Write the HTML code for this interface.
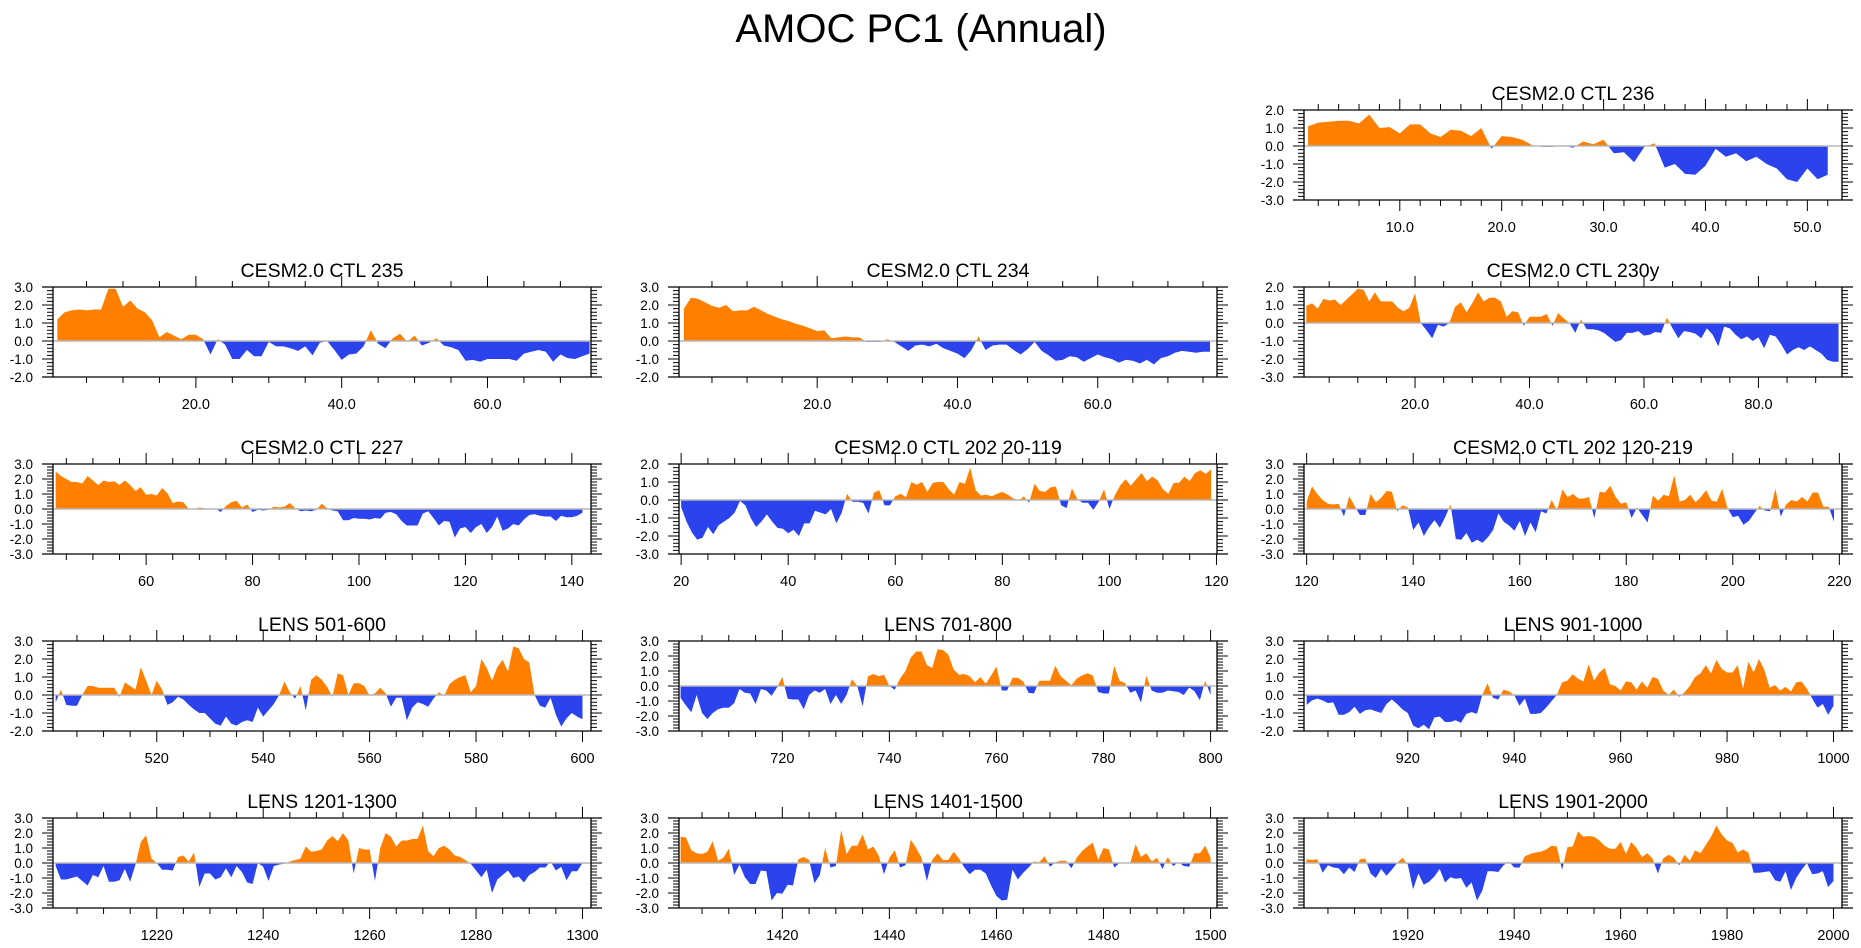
<!DOCTYPE html>
<html><head><meta charset="utf-8"><style>
html,body{margin:0;padding:0;background:#fff;}
svg{display:block;font-family:"Liberation Sans",sans-serif;}
</style></head><body>
<svg id="chart" width="1861" height="948" viewBox="0 0 1861 948" xmlns="http://www.w3.org/2000/svg">
<text x="921" y="42" font-size="40" text-anchor="middle" fill="#000">AMOC PC1 (Annual)</text>
</svg>
<script>
const titles=["CESM2.0 CTL 236","CESM2.0 CTL 235","CESM2.0 CTL 234","CESM2.0 CTL 230y","CESM2.0 CTL 227","CESM2.0 CTL 202 20-119","CESM2.0 CTL 202 120-219","LENS 501-600","LENS 701-800","LENS 901-1000","LENS 1201-1300","LENS 1401-1500","LENS 1901-2000"];
const startYears=[1,1,1,1,43,20,120,501,701,901,1201,1401,1901];
const pc_236=[1.1,1.3,1.35,1.4,1.4,1.25,1.75,1.0,1.05,0.7,1.2,1.2,0.7,0.5,0.9,0.85,0.55,1.0,-0.15,0.55,0.5,0.35,0.05,-0.05,-0.05,0.05,-0.1,0.25,0.1,0.35,-0.4,-0.35,-0.9,-0.05,0.15,-1.2,-1.0,-1.55,-1.6,-1.1,-0.15,-0.6,-0.4,-0.85,-0.6,-1.0,-1.25,-1.85,-2.0,-1.25,-1.85,-1.6];
const pc_235=[1.2,1.6,1.7,1.75,1.7,1.75,1.75,2.9,2.9,1.9,2.25,1.8,1.6,1.15,0.2,0.5,0.3,0.1,0.35,0.35,0.1,-0.75,0.1,-0.2,-1.0,-1.0,-0.5,-0.85,-0.85,-0.05,-0.3,-0.3,-0.4,-0.55,-0.3,-0.8,-0.1,0.0,-0.5,-1.05,-0.75,-0.7,-0.3,0.6,-0.15,-0.4,0.15,0.4,-0.05,0.3,-0.25,-0.1,0.15,-0.25,-0.35,-0.5,-1.1,-1.05,-1.15,-1.0,-1.0,-1.0,-1.0,-1.1,-0.7,-0.6,-0.5,-0.6,-1.15,-0.75,-0.95,-1.0,-0.85,-0.7];
const pc_234=[1.8,2.4,2.35,2.15,1.95,1.85,2.0,1.65,1.7,1.7,1.9,1.7,1.5,1.35,1.2,1.1,0.95,0.85,0.7,0.55,0.6,0.15,0.2,0.25,0.2,0.2,-0.05,-0.05,-0.05,0.1,-0.05,-0.3,-0.55,-0.25,-0.2,-0.3,-0.15,-0.4,-0.55,-0.7,-0.95,-0.5,0.25,-0.5,-0.25,-0.2,-0.2,-0.5,-0.75,-0.45,-0.05,-0.55,-0.8,-1.1,-1.05,-0.85,-0.9,-1.15,-0.95,-0.75,-0.9,-1.0,-1.2,-1.05,-1.1,-1.25,-1.05,-1.3,-0.95,-0.85,-0.65,-0.55,-0.6,-0.65,-0.6,-0.6];
const pc_230y=[0.95,1.1,0.8,1.35,1.25,1.3,1.0,1.3,1.6,1.9,1.85,1.2,1.7,1.2,1.2,1.2,0.85,0.65,0.85,1.65,0.0,-0.4,-0.85,-0.1,-0.2,0.0,0.9,1.15,0.6,1.1,1.7,1.2,1.4,1.4,1.2,0.35,0.65,0.6,-0.15,0.35,0.35,0.35,0.5,-0.15,0.55,0.25,0.0,-0.55,0.2,-0.35,-0.35,-0.4,-0.55,-0.8,-1.05,-0.95,-0.55,-0.55,-0.45,-0.7,-0.65,-0.5,-0.55,0.3,-0.3,-0.85,-0.45,-0.5,-0.6,-0.85,-0.3,-0.65,-1.3,-0.2,-0.3,-0.65,-0.9,-0.75,-1.0,-0.8,-1.4,-0.65,-0.75,-1.2,-1.75,-1.5,-1.35,-1.5,-1.3,-1.5,-1.7,-2.05,-2.15,-2.15];
const pc_227=[2.5,2.2,2.0,1.8,1.8,1.7,2.2,1.9,1.6,1.9,1.8,1.85,1.6,1.9,1.6,1.2,1.45,0.95,1.0,0.9,1.4,1.05,0.4,0.5,0.45,0.0,0.0,0.1,0.05,-0.05,0.05,-0.2,0.2,0.45,0.55,0.1,0.3,-0.2,-0.05,-0.1,-0.05,0.15,0.1,0.15,0.4,0.05,-0.15,-0.1,-0.15,-0.05,0.35,0.05,-0.1,-0.15,-0.75,-0.75,-0.6,-0.65,-0.65,-0.7,-0.6,-0.65,-0.25,-0.2,-0.35,-0.8,-1.1,-1.1,-1.1,-0.3,-0.15,-0.6,-1.1,-0.8,-0.85,-1.9,-1.3,-1.2,-1.6,-1.2,-1.0,-1.6,-1.2,-0.5,-1.45,-1.3,-1.0,-1.1,-0.7,-0.4,-0.35,-0.45,-0.5,-0.5,-0.8,-0.45,-0.55,-0.55,-0.45,-0.25];
const pc_202a=[-0.4,-1.2,-1.8,-2.2,-2.1,-1.5,-1.9,-1.4,-1.2,-1.0,-0.7,-0.05,-0.3,-1.0,-1.5,-1.2,-0.8,-1.2,-1.55,-1.6,-1.85,-1.65,-2.0,-1.3,-1.3,-0.6,-0.7,-0.8,-0.5,-1.3,-0.7,0.35,-0.1,-0.1,-0.15,-0.75,0.4,0.55,-0.3,-0.3,0.2,0.35,0.15,1.0,0.85,1.0,0.45,0.95,1.0,1.0,0.6,0.3,1.0,0.9,1.8,0.55,0.25,0.3,0.2,0.35,0.45,0.3,0.1,-0.05,0.2,-0.15,0.9,0.5,0.45,0.7,0.75,-0.3,-0.45,0.65,0.05,-0.15,-0.15,-0.55,-0.1,0.6,-0.5,0.25,0.8,1.15,0.8,1.15,1.5,1.05,1.3,1.1,0.6,0.35,0.95,0.95,1.3,1.05,1.5,1.65,1.45,1.7];
const pc_202b=[0.5,1.5,1.0,0.6,0.35,0.3,0.35,-0.5,0.85,0.2,-0.4,-0.4,1.0,0.45,0.75,1.2,1.15,-0.15,0.25,0.1,-1.4,-0.9,-1.8,-1.2,-0.75,-1.25,-0.55,0.3,-2.0,-2.05,-1.6,-2.25,-2.05,-2.25,-1.9,-1.4,-0.3,-0.85,-1.1,-1.45,-0.8,-1.8,-0.9,-1.55,-0.15,-0.3,0.6,-0.1,1.3,0.8,1.0,0.7,0.7,0.8,-0.6,1.15,1.1,1.55,0.8,0.35,0.45,-0.6,0.1,-0.4,-0.9,0.9,0.55,0.95,0.85,2.25,0.5,0.6,0.95,0.45,0.8,1.25,0.55,0.5,1.35,0.05,-0.55,-0.45,-1.05,-0.8,-0.3,0.2,-0.1,-0.15,1.35,-0.5,0.3,0.6,0.5,0.8,0.5,1.1,1.1,0.15,0.15,-0.85];
const pc_501=[-0.4,0.3,-0.55,-0.6,-0.6,0.0,0.5,0.5,0.4,0.4,0.4,0.4,-0.1,0.7,0.5,0.3,1.55,0.8,0.0,0.8,0.3,-0.55,-0.4,-0.1,-0.25,-0.55,-0.8,-1.0,-1.0,-1.3,-1.6,-1.7,-1.2,-1.6,-1.7,-1.5,-1.4,-1.5,-0.7,-1.2,-0.85,-0.5,0.0,0.75,0.15,-0.2,0.5,-0.85,0.85,1.1,0.85,0.45,-0.1,1.2,1.1,0.0,0.65,0.65,0.5,-0.05,0.1,0.4,0.1,-0.65,-0.15,-0.15,-1.4,-0.7,-0.4,-0.5,-0.65,-0.2,0.15,-0.05,0.6,0.85,1.0,1.1,0.15,0.5,2.0,1.5,0.8,1.55,1.95,1.3,2.7,2.6,2.0,1.8,0.0,-0.6,-0.7,-0.15,-1.1,-1.75,-1.3,-1.0,-1.2,-1.35];
const pc_701=[-0.8,-1.3,-1.75,-0.6,-1.8,-2.2,-1.8,-1.55,-1.45,-1.45,-1.15,-0.2,-0.45,-0.5,-1.2,-0.2,-0.3,-0.65,-0.1,0.6,-0.85,-0.9,-0.9,-1.55,-0.6,-0.3,-0.45,-0.2,-1.2,-0.6,-1.2,-0.6,0.45,0.0,-1.35,0.65,0.8,0.65,0.75,0.0,-0.25,0.5,1.0,1.9,2.3,2.3,1.4,1.2,2.45,2.4,2.1,1.1,0.75,0.8,0.65,0.25,0.6,0.15,0.7,1.3,-0.3,-0.3,0.55,0.55,0.3,-0.45,-0.5,0.35,0.35,0.35,1.35,0.65,0.35,0.05,0.5,0.7,0.85,0.7,-0.4,-0.5,-0.5,1.35,0.35,0.2,-0.45,-0.3,-1.1,0.7,-0.3,-0.45,-0.45,-0.3,-0.35,-0.4,-0.6,-0.1,-0.35,-0.95,0.35,-0.6];
const pc_901=[-0.55,-0.3,-0.2,-0.3,-0.45,-0.4,-1.1,-1.1,-0.95,-0.65,-1.05,-0.85,-0.8,-0.9,-1.0,-0.5,-0.25,-0.5,-0.8,-1.0,-1.7,-1.85,-1.65,-1.9,-1.25,-1.2,-1.5,-1.5,-1.4,-1.55,-1.05,-0.95,-1.05,0.0,0.65,-0.15,-0.25,0.3,0.2,0.0,-0.6,-0.2,-1.05,-1.05,-1.0,-0.7,-0.35,0.0,0.7,0.8,1.15,0.9,0.75,1.7,0.8,1.25,1.5,0.6,0.5,0.25,0.75,0.7,0.3,0.75,0.4,1.0,0.9,0.25,0.0,0.3,-0.1,0.15,0.5,1.0,1.2,1.65,1.2,1.95,1.45,1.25,1.25,1.65,0.35,1.85,1.25,2.0,1.4,0.4,0.55,0.25,0.45,0.2,0.7,0.75,0.35,-0.2,-0.7,-0.5,-1.1,-0.6];
const pc_1201=[-0.2,-1.1,-1.1,-1.0,-0.9,-1.2,-1.5,-0.8,-0.95,-0.2,-1.25,-1.25,-1.15,-0.4,-1.25,-0.1,1.4,1.85,0.3,0.0,-0.45,-0.45,-0.5,0.4,0.5,0.1,0.7,-1.6,-0.7,-0.7,-1.1,-0.95,-0.35,-0.95,-0.2,-0.6,-1.3,-1.4,0.0,-0.25,-1.2,-0.2,-0.1,-0.05,0.1,0.2,0.3,1.1,0.75,0.8,0.9,1.5,1.8,1.45,2.0,1.5,-0.7,1.0,0.9,0.9,-1.2,1.0,2.0,1.75,1.1,1.5,1.5,1.6,1.6,2.5,0.8,0.45,1.0,1.15,0.9,0.5,0.4,0.2,-0.05,-0.5,-0.95,-0.45,-2.0,-1.1,-0.8,-0.5,-1.0,-0.9,-1.3,-0.8,-0.6,-0.3,-0.3,0.1,-0.5,-0.25,-1.15,-0.55,-0.55,0.0];
const pc_1401=[1.75,1.7,0.85,0.65,0.6,0.75,1.45,0.15,0.35,0.95,-0.8,-0.1,-0.95,-1.4,-1.4,-0.5,-0.55,-2.5,-2.0,-2.05,-1.45,-1.5,0.25,0.4,0.2,-1.35,-0.8,1.0,-0.3,-0.2,2.2,0.6,1.15,1.15,1.9,0.9,1.1,0.5,-0.75,0.35,0.85,-0.3,-0.15,1.55,1.0,0.35,-1.2,0.2,0.65,0.2,0.2,0.75,0.3,-0.3,-0.75,-0.45,-0.45,-0.7,-1.5,-2.2,-2.5,-2.45,-0.45,-1.1,-0.65,-0.3,0.1,0.05,0.45,-0.25,0.05,0.15,0.15,-0.35,0.35,0.8,1.1,1.35,0.2,1.0,0.9,-0.3,0.0,0.0,0.0,1.25,0.4,0.65,0.1,0.35,-0.4,0.4,-0.2,0.05,-0.2,-0.25,0.65,0.65,1.15,0.35];
const pc_1901=[0.25,0.2,0.25,-0.65,-0.15,-0.3,-0.35,-0.75,-0.3,-0.6,0.25,0.3,-0.7,-1.0,-0.4,-0.85,-0.45,0.0,0.35,-0.1,-1.75,-0.7,-1.45,-1.25,-0.9,-0.4,-1.3,-0.95,-1.05,-1.0,-1.65,-1.3,-2.5,-1.85,-0.55,-0.55,-0.6,-0.15,0.1,-0.3,-0.3,0.45,0.6,0.7,0.75,0.9,1.15,1.1,-0.45,1.05,1.1,2.1,1.75,1.8,1.75,1.5,1.15,0.95,0.95,1.4,0.6,1.4,1.0,0.4,0.65,0.3,-0.7,0.3,0.55,0.35,-0.15,0.55,0.15,0.85,0.65,1.2,1.75,2.5,1.9,1.5,1.35,0.7,0.9,0.7,-0.65,-0.65,-0.6,-0.55,-1.15,-1.25,-0.55,-1.8,-1.0,-0.45,0.0,-0.75,-0.7,-0.55,-1.6,-1.2];
const series=[pc_236,pc_235,pc_234,pc_230y,pc_227,pc_202a,pc_202b,pc_501,pc_701,pc_901,pc_1201,pc_1401,pc_1901];
const yTop=[2,3,3,2,3,2,3,3,3,3,3,3,3];
const yBottom=[-3,-2,-2,-3,-3,-3,-3,-2,-3,-2,-3,-3,-3];
const xTickLabels=[["10.0","20.0","30.0","40.0","50.0"],["20.0","40.0","60.0"],["20.0","40.0","60.0"],["20.0","40.0","60.0","80.0"],["60","80","100","120","140"],["20","40","60","80","100","120"],["120","140","160","180","200","220"],["520","540","560","580","600"],["720","740","760","780","800"],["920","940","960","980","1000"],["1220","1240","1260","1280","1300"],["1420","1440","1460","1480","1500"],["1920","1940","1960","1980","2000"]];

// layout (not data)
const layout=[
 {c:2,r:0,x0:0.6,x1:53.4,minor:2},
 {c:0,r:1,x0:0.4,x1:74.2,minor:5},
 {c:1,r:1,x0:0.3,x1:77,minor:5},
 {c:2,r:1,x0:0.6,x1:94.6,minor:5},
 {c:0,r:2,x0:42.5,x1:143.6,minor:5},
 {c:1,r:2,x0:19.6,x1:120.1,minor:5},
 {c:2,r:2,x0:119.5,x1:220.5,minor:5},
 {c:0,r:3,x0:500.5,x1:601.6,minor:5},
 {c:1,r:3,x0:700.7,x1:801.2,minor:5},
 {c:2,r:3,x0:900.5,x1:1001.6,minor:5},
 {c:0,r:4,x0:1200.5,x1:1301.6,minor:5},
 {c:1,r:4,x0:1400.7,x1:1501.2,minor:5},
 {c:2,r:4,x0:1900.5,x1:2001.6,minor:5}];
const colL=[53,679,1304], rowT=[110,287,464,641,818], PW=538, PH=90;
const NS="http://www.w3.org/2000/svg";
const svg=document.getElementById('chart');
function mk(tag,attrs,parent){const e=document.createElementNS(NS,tag);for(const k in attrs)e.setAttribute(k,attrs[k]);(parent||svg).appendChild(e);return e;}
layout.forEach((p,i)=>{
  const L=colL[p.c],T=rowT[p.r],yt=yTop[i],yb=yBottom[i];
  const sx=v=>L+(v-p.x0)/(p.x1-p.x0)*PW;
  const sy=v=>T+(yt-v)/(yt-yb)*PH;
  const g=mk('g',{});
  
  
  const t=mk('text',{x:L+PW/2,y:T-10,'font-size':19.5,'text-anchor':'middle',fill:'#000'},g);
  
  
  t.textContent=titles[i];
  const vals=series[i],s=startYears[i];
  const z=sy(0);
  let d='M'+sx(s)+','+z;
  vals.forEach((v,k)=>{d+=' L'+sx(s+k).toFixed(2)+','+sy(v).toFixed(2);});
  d+=' L'+sx(s+vals.length-1)+','+z+' Z';
  const cid='c'+i;
  const defs=mk('defs',{},g);
  const cpA=mk('clipPath',{id:cid+'a'},defs);mk('rect',{x:L,y:T,width:PW,height:z-T},cpA);
  const cpB=mk('clipPath',{id:cid+'b'},defs);mk('rect',{x:L,y:z,width:PW,height:T+PH-z},cpB);
  const pa=mk('path',{d:d,fill:'#ff8000','clip-path':'url(#'+cid+'a)'},g);
  
  
  const pb=mk('path',{d:d,fill:'#2a43ec','clip-path':'url(#'+cid+'b)'},g);
  
  
  const zl=mk('line',{x1:L,x2:L+PW,y1:z,y2:z,stroke:'#b8b8b8','stroke-width':1.5},g);
  
  
  const bd=mk('path',{d:`M${L-11},${T}H${L+PW+11}M${L-11},${T+PH}H${L+PW+11}M${L},${T}V${T+PH}M${L+PW},${T}V${T+PH}`,stroke:'#000','stroke-width':1.3,fill:'none'},g);
  
  
  let td='';
  for(let k=Math.round(yb*5);k<=Math.round(yt*5);k++){
    const v=k/5,y=sy(v),len=(k%5===0)?11:6;
    td+=`M${L-len},${y}H${L}M${L+PW},${y}H${L+PW+len}`;
    if(k%5===0){
      const lb=mk('text',{x:L-20,y:y+5,'font-size':13.5,'text-anchor':'end',fill:'#000'},g);
      
      
      lb.textContent=v.toFixed(1);
    }
  }
  for(let v=Math.ceil(p.x0/p.minor)*p.minor;v<=p.x1;v+=p.minor){
    const x=sx(v);td+=`M${x},${T}V${T-6}M${x},${T+PH}V${T+PH+6}`;
  }
  xTickLabels[i].forEach(lab=>{
    const v=parseFloat(lab),x=sx(v);
    td+=`M${x},${T}V${T-11}M${x},${T+PH}V${T+PH+11}`;
    const lb=mk('text',{x:x,y:T+PH+32,'font-size':14.5,'text-anchor':'middle',fill:'#000'},g);
    
    
    lb.textContent=lab;
  });
  const tk=mk('path',{d:td,stroke:'#000','stroke-width':1,fill:'none'},g);
  
  
});
</script>
</body></html>
